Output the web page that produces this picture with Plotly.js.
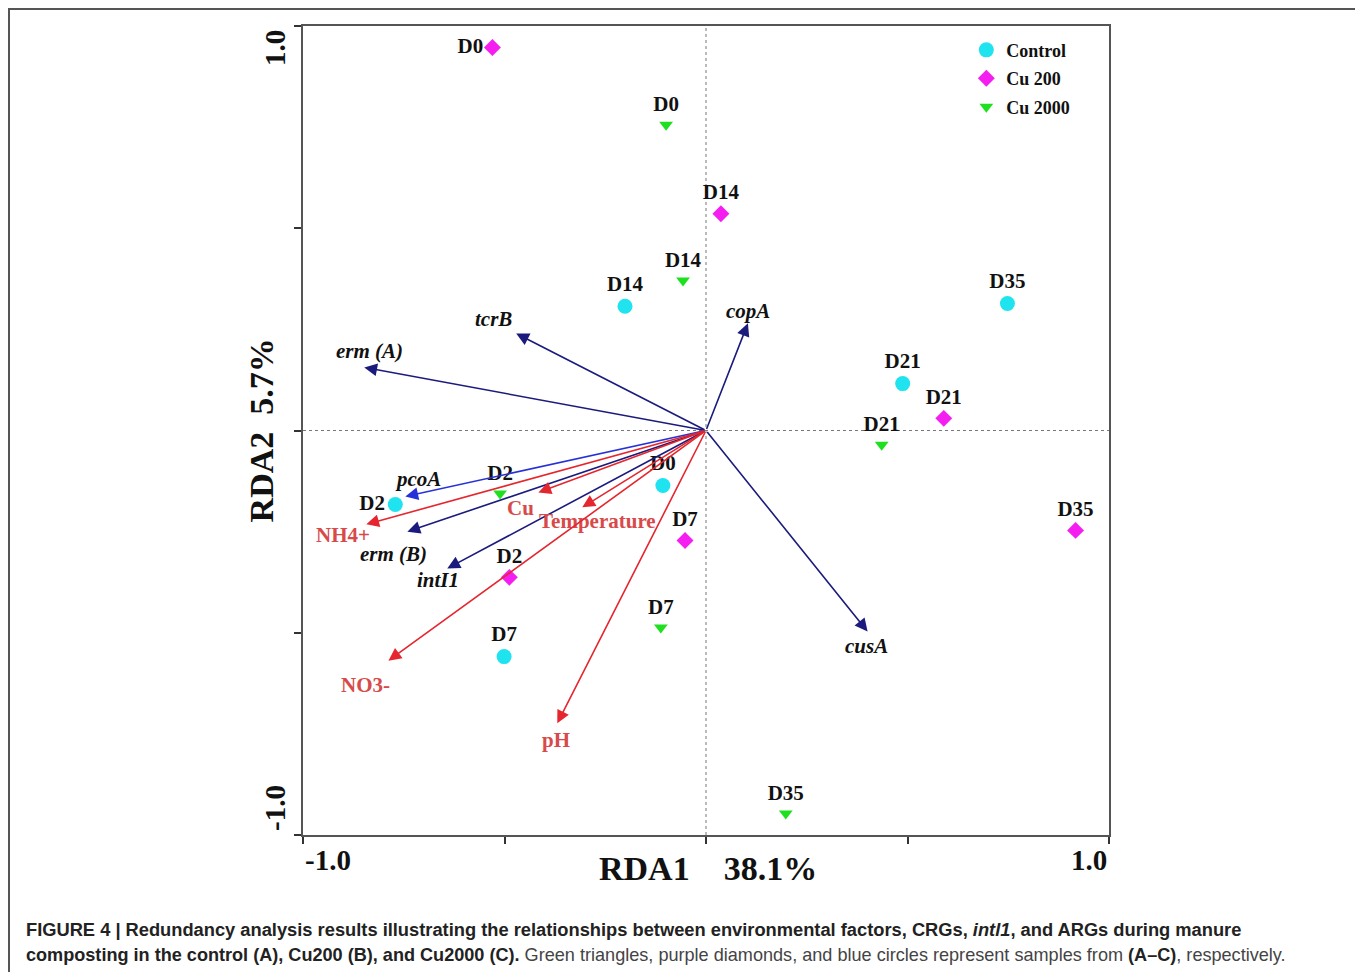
<!DOCTYPE html>
<html>
<head>
<meta charset="utf-8">
<script src="https://cdn.plot.ly/plotly-3.0.1.min.js"></script>
<style>
  html, body { margin: 0; padding: 0; background: #fff; }
  #wrap { position: relative; width: 1355px; height: 972px; overflow: hidden; }
  #frame { position: absolute; left: 8px; top: 8px; width: 1400px; height: 1000px;
           border-left: 2px solid #555; border-top: 2px solid #555; pointer-events: none; }
  #chart { position: absolute; left: 0; top: 0; width: 1355px; height: 972px; }
</style>
</head>
<body>
<div id="wrap">
  <div id="chart"></div>
  <div id="frame"></div>
</div>
<script>
// ---- data ----
const groupNames = ['Control', 'Cu 200', 'Cu 2000'];
const days = ['D0', 'D2', 'D7', 'D14', 'D21', 'D35'];

const controlX = [-0.107, -0.771, -0.501, -0.201, 0.488, 0.748];
const controlY = [-0.136, -0.183, -0.559, 0.307, 0.116, 0.314];

const cu200X = [-0.530, -0.488, -0.052, 0.037, 0.590, 0.917];
const cu200Y = [0.947, -0.363, -0.272, 0.536, 0.030, -0.247];

const cu2000X = [-0.099, -0.511, -0.112, -0.057, 0.436, 0.198];
const cu2000Y = [0.756, -0.156, -0.487, 0.371, -0.035, -0.947];

const geneNames = ['tcrB', 'erm (A)', 'copA', 'cusA', 'pcoA', 'erm (B)', 'intI1'];
const geneX = [-0.471, -0.848, 0.104, 0.401, -0.746, -0.741, -0.642];
const geneY = [0.240, 0.156, 0.265, -0.497, -0.163, -0.250, -0.341];

const envNames = ['NH4+', 'Cu', 'Temperature', 'NO3-', 'pH'];
const envX = [-0.843, -0.416, -0.307, -0.788, -0.369];
const envY = [-0.232, -0.153, -0.190, -0.569, -0.724];

const xTitle = 'RDA1\u00a0\u00a0\u00a0 38.1%';
const yTitle = 'RDA2\u00a0 5.7%';
const tickLabels = ['-1.0', '1.0'];

// ---- styles ----
const SERIF = '"Liberation Serif", "Times New Roman", serif';
const SANS = '"Liberation Sans", Arial, sans-serif';
const NAVY = '#1b1b7d';
const BLUE = '#2632d8';
const RED = '#e5262e';
const REDTXT = '#d84a4a';

// label text positions per point (style)
const controlPos = days.map(d => d === 'D2' ? 'middle left' : 'top center');
const cu200Pos = days.map(d => d === 'D0' ? 'middle left' : 'top center');
const cu2000Pos = days.map(() => 'top center');

// label offsets in px for arrows (style)
const geneLabelShift = {
  'tcrB': [-23, 14], 'erm (A)': [5, 16], 'copA': [0, 12], 'cusA': [-1, -14],
  'pcoA': [13, 17], 'erm (B)': [-14, -22], 'intI1': [-9, -12]
};
const envLabelShift = {
  'NH4+': [-23, -11], 'Cu': [-18, -16], 'Temperature': [15, -14],
  'NO3-': [-23, -24], 'pH': [-1, -17]
};

const ptFont = {family: SERIF, size: 21, color: '#111', weight: 'bold'};

const traces = [
  {
    type: 'scatter', mode: 'markers+text', name: groupNames[0], legendgroup: 'g0',
    x: controlX, y: controlY, text: days, textposition: controlPos,
    textfont: ptFont, cliponaxis: false,
    marker: {symbol: 'circle', size: 15, color: '#1fe3ef'}
  },
  {
    type: 'scatter', mode: 'markers+text', name: groupNames[1], legendgroup: 'g1',
    x: cu200X, y: cu200Y, text: days, textposition: cu200Pos,
    textfont: ptFont, cliponaxis: false,
    marker: {symbol: 'diamond', size: 13, color: '#f51ef0'}
  },
  {
    type: 'scatter', mode: 'markers+text', name: groupNames[2], legendgroup: 'g2',
    x: cu2000X, y: cu2000Y, text: days, textposition: cu2000Pos,
    textfont: ptFont, cliponaxis: false,
    marker: {symbol: 'triangle-down', size: 12, color: '#1ee01e'}
  }
];

const annotations = [];

function addArrow(x, y, color) {
  annotations.push({
    x: x, y: y, ax: 0, ay: 0, xref: 'x', yref: 'y', axref: 'x', ayref: 'y',
    text: '', showarrow: true, arrowhead: 2, arrowsize: 1.6, arrowwidth: 1.6,
    arrowcolor: color, standoff: 0, startstandoff: 0
  });
}

geneNames.forEach((n, i) => {
  addArrow(geneX[i], geneY[i], n === 'pcoA' ? BLUE : NAVY);
  const s = geneLabelShift[n];
  annotations.push({
    x: geneX[i], y: geneY[i], xref: 'x', yref: 'y', showarrow: false,
    text: '<b><i>' + n + '</i></b>', xshift: s[0], yshift: s[1],
    font: {family: SERIF, size: 21, color: '#111'}
  });
});

envNames.forEach((n, i) => {
  addArrow(envX[i], envY[i], RED);
  const s = envLabelShift[n];
  annotations.push({
    x: envX[i], y: envY[i], xref: 'x', yref: 'y', showarrow: false,
    text: '<b>' + n + '</b>', xshift: s[0], yshift: s[1],
    font: {family: SERIF, size: 21, color: REDTXT}
  });
});

// axis titles
annotations.push({
  xref: 'paper', yref: 'paper', x: 0.5025, y: -0.041, showarrow: false,
  xanchor: 'center', yanchor: 'middle',
  text: '<b>' + xTitle + '</b>', font: {family: SERIF, size: 34, color: '#111'}
});
annotations.push({
  xref: 'paper', yref: 'paper', x: -0.051, y: 0.5, showarrow: false,
  xanchor: 'center', yanchor: 'middle', textangle: -90,
  text: '<b>' + yTitle + '</b>', font: {family: SERIF, size: 34, color: '#111'}
});

// tick labels
annotations.push({
  xref: 'x', yref: 'paper', x: -1, y: -0.031, xanchor: 'left', yanchor: 'middle',
  showarrow: false, text: '<b>' + tickLabels[0] + '</b>',
  font: {family: SERIF, size: 29, color: '#111'}
});
annotations.push({
  xref: 'x', yref: 'paper', x: 1, y: -0.031, xanchor: 'right', yanchor: 'middle',
  showarrow: false, text: '<b>' + tickLabels[1] + '</b>',
  font: {family: SERIF, size: 29, color: '#111'}
});
annotations.push({
  xref: 'paper', yref: 'y', x: -0.0347, y: 1, yshift: -22, xanchor: 'center', yanchor: 'middle',
  textangle: -90, showarrow: false, text: '<b>' + tickLabels[1] + '</b>',
  font: {family: SERIF, size: 29, color: '#111'}
});
annotations.push({
  xref: 'paper', yref: 'y', x: -0.0347, y: -1, yshift: 27, xanchor: 'center', yanchor: 'middle',
  textangle: -90, showarrow: false, text: '<b>' + tickLabels[0] + '</b>',
  font: {family: SERIF, size: 29, color: '#111'}
});

// caption
const capLine1 = '<b>FIGURE 4 | Redundancy analysis results illustrating the relationships between environmental factors, CRGs, <i>intl1</i>, and ARGs during manure</b>';
const capLine2 = '<b>composting in the control (A), Cu200 (B), and Cu2000 (C).</b><span style="color:#444"> Green triangles, purple diamonds, and blue circles represent samples from </span><b>(A\u2013C)</b><span style="color:#444">, respectively.</span>';
annotations.push({
  xref: 'paper', yref: 'paper', x: -0.346, y: -0.1174, xanchor: 'left', yanchor: 'middle',
  showarrow: false, align: 'left', text: capLine1,
  font: {family: SANS, size: 18.3, color: '#222'}
});
annotations.push({
  xref: 'paper', yref: 'paper', x: -0.346, y: -0.1483, xanchor: 'left', yanchor: 'middle',
  showarrow: false, align: 'left', text: capLine2,
  font: {family: SANS, size: 18.1, color: '#222'}
});

const axisCommon = {
  range: [-1, 1], showgrid: false, zeroline: false, showline: true, mirror: true,
  linecolor: '#555', linewidth: 2, ticks: 'outside', ticklen: 7, tickwidth: 2,
  tickcolor: '#333', tickvals: [-1, -0.5, 0, 0.5, 1], showticklabels: false, fixedrange: true
};

const layout = {
  width: 1355, height: 972,
  margin: {l: 303, r: 246, t: 26, b: 137, pad: 0},
  paper_bgcolor: '#ffffff', plot_bgcolor: '#ffffff',
  xaxis: Object.assign({}, axisCommon),
  yaxis: Object.assign({}, axisCommon),
  showlegend: true,
  legend: {
    x: 0.823, y: 0.993, xanchor: 'left', yanchor: 'top',
    bgcolor: 'rgba(0,0,0,0)', borderwidth: 0, itemwidth: 30, tracegroupgap: 2,
    font: {family: SERIF, size: 18, color: '#111', weight: 'bold'}
  },
  shapes: [
    {type: 'line', xref: 'x', yref: 'paper', x0: 0, x1: 0, y0: 0, y1: 1,
     line: {color: '#777', width: 1, dash: 'dot'}, layer: 'below'},
    {type: 'line', xref: 'paper', yref: 'y', x0: 0, x1: 1, y0: 0, y1: 0,
     line: {color: '#777', width: 1, dash: 'dot'}, layer: 'below'}
  ],
  annotations: annotations
};

Plotly.newPlot('chart', traces, layout, {displayModeBar: false, staticPlot: true});
</script>
</body>
</html>
